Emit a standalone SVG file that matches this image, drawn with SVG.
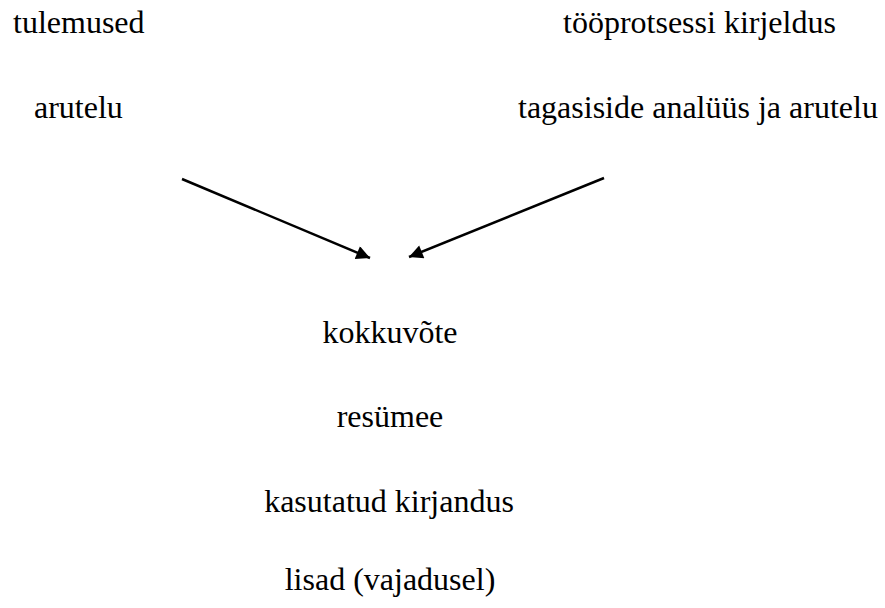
<svg xmlns="http://www.w3.org/2000/svg" width="885" height="608" viewBox="0 0 885 608">
  <style>
    text { font-family: "Liberation Serif", "Times New Roman", serif; font-size: 32px; fill: #000; }
    .c { text-anchor: middle; }
    .a { stroke: #000; stroke-width: 2.5; fill: none; }
  </style>
  <defs>
    <marker id="ah" viewBox="0 0 10 10" refX="10" refY="5" markerWidth="7" markerHeight="5.5" markerUnits="strokeWidth" orient="auto">
      <path d="M0,0 L10,5 L0,10 z" fill="#000"/>
    </marker>
  </defs>
  <rect width="885" height="608" fill="#fff"/>
  <g id="n-tulemused"><text x="13" y="33">tulemused</text></g>
  <g id="n-arutelu"><text x="34" y="118">arutelu</text></g>
  <g id="n-tooprotsessi"><text x="563" y="33">tööprotsessi kirjeldus</text></g>
  <g id="n-tagasiside"><text x="518" y="118">tagasiside analüüs ja arutelu</text></g>
  <g id="connectors">
    <line class="a" x1="182" y1="179" x2="370" y2="258" marker-end="url(#ah)"/>
    <line class="a" x1="604" y1="178" x2="409" y2="257" marker-end="url(#ah)"/>
  </g>
  <g id="n-kokkuvote"><text class="c" x="390" y="343">kokkuvõte</text></g>
  <g id="n-resumee"><text class="c" x="390" y="427">resümee</text></g>
  <g id="n-kasutatud"><text class="c" x="389" y="512">kasutatud kirjandus</text></g>
  <g id="n-lisad"><text class="c" x="390" y="590">lisad (vajadusel)</text></g>
</svg>
